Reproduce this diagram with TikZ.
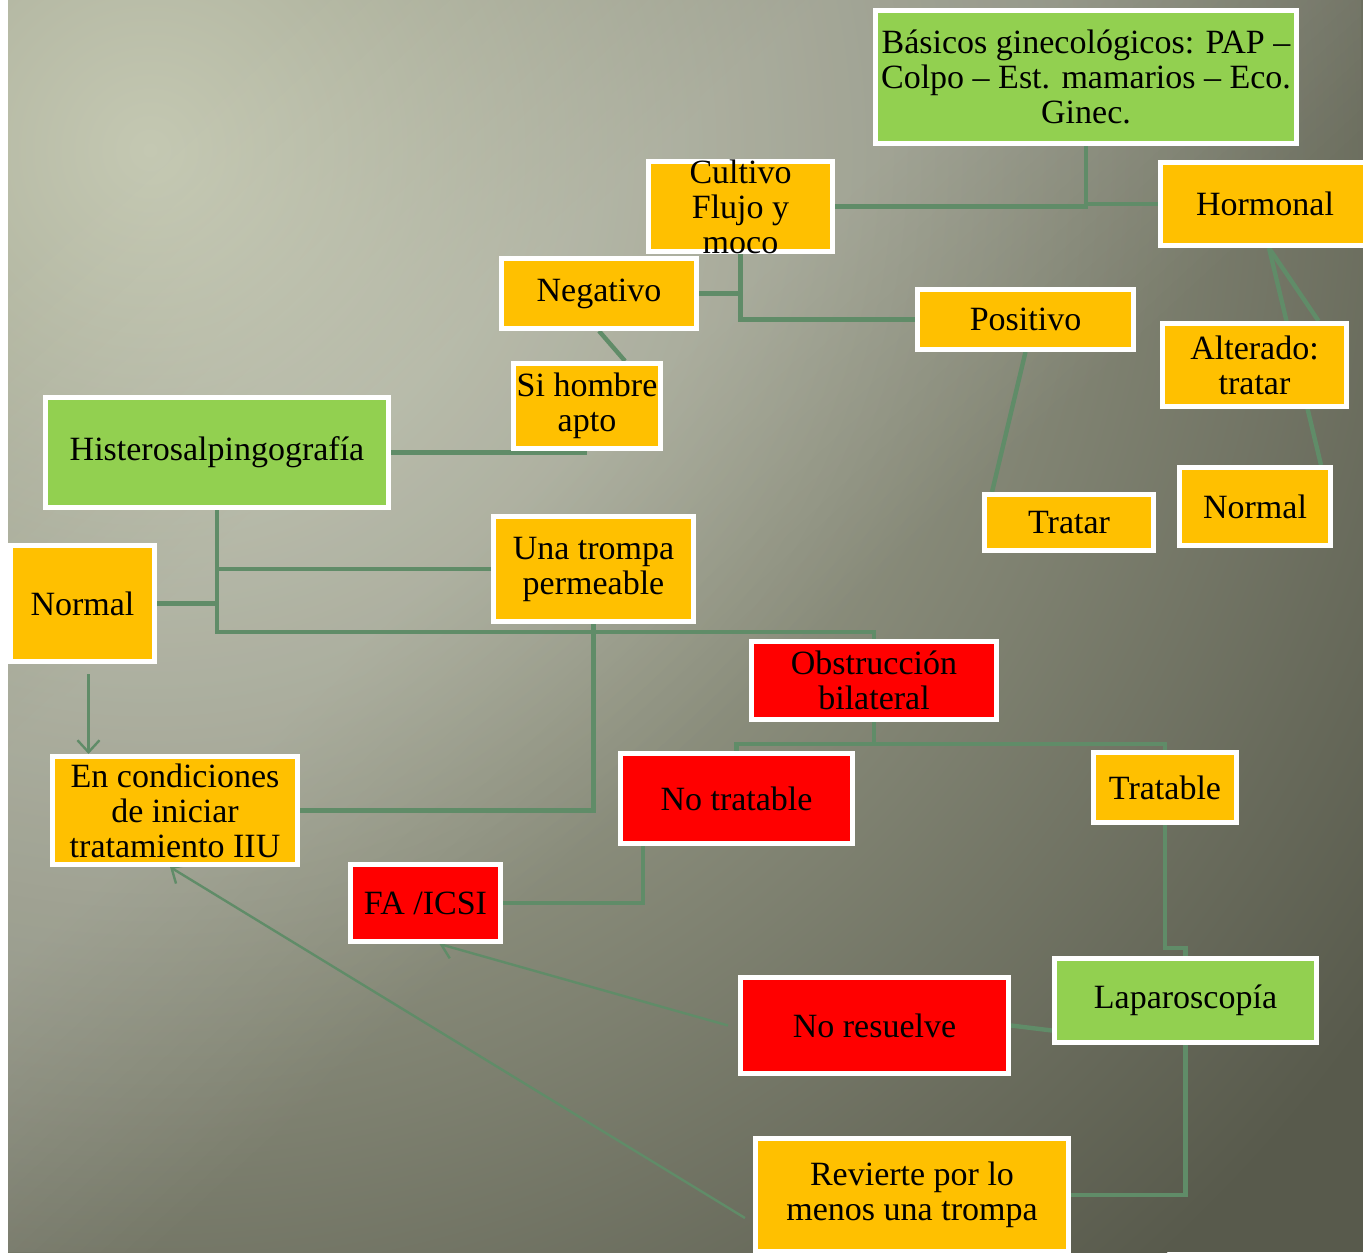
\documentclass[tikz,border=0pt]{standalone}
\usepackage{fontspec}
\setmainfont{Liberation Serif}
\usetikzlibrary{%
  arrows.meta,
  fadings
}

\definecolor{cajaam}{HTML}{FFC000}
\definecolor{cajave}{HTML}{92D050}
\definecolor{cajaro}{HTML}{FF0000}
\definecolor{linea}{RGB}{96,140,104}
\definecolor{fondoc}{RGB}{196,200,178}
\definecolor{fondoo}{RGB}{88,90,76}

\pgfdeclarehorizontalshading{rayassh}{100bp}{color(0bp)=(black); color(22bp)=(black);
  color(36bp)=(white); color(42bp)=(white); color(54bp)=(black); color(100bp)=(black)}
\pgfdeclarefading{rayas}{\pgfuseshading{rayassh}}

\pgfdeclarelayer{fondo}
\pgfdeclarelayer{lineas}
\pgfsetlayers{fondo,lineas,main}

\begin{document}
\begin{tikzpicture}[x=0.5pt, y=-0.5pt,
    texto/.style={align=center, inner sep=1pt, font=\fontsize{17}{17.5}\selectfont},
    caja/.style={texto, draw=white, line width=2.5pt},
    am/.style={caja, fill=cajaam},
    ve/.style={caja, fill=cajave},
    ro/.style={caja, fill=cajaro},
    con/.style={linea, line width=2.2pt},
    fle/.style={linea, line width=1.2pt, -{Straight Barb[length=6pt,width=11pt]}}]
    \useasboundingbox (0,0) rectangle (1363,1252);

    % fondo
    \begin{pgfonlayer}{fondo}
      \begin{scope}
        \clip (8,0) rectangle (1363,1252);
        \fill[fondoo] (8,0) rectangle (1363,1252);
        \shade[inner color=fondoc, outer color=fondoo] (150,150) circle (1500);
        \fill[white, fill opacity=.16, path fading=rayas, fading angle=-45] (8,0) rectangle (1363,1252);
      \end{scope}
    \end{pgfonlayer}

    % cajas
    \node[ve, minimum width=210.5pt, minimum height=66.5pt] (basicos) at (1086,77)
      {Básicos ginecológicos: PAP –\\Colpo – Est. mamarios – Eco.\\Ginec.};
    \node[am, minimum width=92pt, minimum height=45pt] (cultivo) at (740.5,206.5) {};
    \node[texto] at (cultivo) {Cultivo\\Flujo y\\moco};
    \node[am, minimum width=104.5pt, minimum height=41.5pt] (hormonal) at (1265,204) {Hormonal};
    \node[am, minimum width=97.5pt, minimum height=35pt] (negativo) at (599,293.5) {Negativo};
    \node[am, minimum width=108pt, minimum height=30pt] (positivo) at (1025.5,319.5) {Positivo};
    \node[am, minimum width=92pt, minimum height=41.5pt] (alterado) at (1254.5,365) {Alterado:\\tratar};
    \node[am, minimum width=73.5pt, minimum height=42.5pt] (sihombre) at (587,406) {Si hombre\\apto};
    \node[ve, minimum width=171.5pt, minimum height=55pt] (histero) at (217,452.5) {Histerosalpingografía};
    \node[am, minimum width=84.5pt, minimum height=28pt] (tratar) at (1069,522.5) {Tratar};
    \node[am, minimum width=75.5pt, minimum height=39pt] (normalb) at (1255,506.5) {Normal};
    \node[am, minimum width=100pt, minimum height=52.5pt] (unatrompa) at (593.5,569) {Una trompa\\permeable};
    \node[am, minimum width=72pt, minimum height=58pt] (normala) at (82.5,603.5) {Normal};
    \node[ro, minimum width=122.5pt, minimum height=39pt] (obstruccion) at (874,680.5) {Obstrucción\\bilateral};
    \node[am, minimum width=122.5pt, minimum height=54pt] (condiciones) at (175,810.5)
      {En condiciones\\de iniciar\\tratamiento IIU};
    \node[ro, minimum width=116pt, minimum height=45pt] (notratable) at (736.5,798.5) {No tratable};
    \node[am, minimum width=71.5pt, minimum height=35pt] (tratable) at (1165,787.5) {Tratable};
    \node[ro, minimum width=75pt, minimum height=38.5pt] (faicsi) at (425.5,903) {FA /ICSI};
    \node[ro, minimum width=134pt, minimum height=48pt] (noresuelve) at (874.5,1025.5) {No resuelve};
    \node[ve, minimum width=131pt, minimum height=42pt] (laparo) at (1185.5,1000.5) {Laparoscopía};
    \node[am, minimum width=156.5pt, minimum height=56.5pt] (revierte) at (912,1195)
      {Revierte por lo\\menos una trompa};

    % conexiones
    \begin{pgfonlayer}{lineas}
      \draw[con] (cultivo.east) -| (basicos.south);
      \draw[con] (basicos.south |- hormonal.west) -- (hormonal.west);
      \draw[con] (cultivo.south) |- (positivo.west);
      \draw[con] (negativo.east) -- (negativo.east -| cultivo.south);
      \draw[con] (negativo.south) -- ([xshift=19pt]sihombre.north);
      \draw[con] (histero.east) -- (histero.east -| sihombre.south);
      \draw[con] ([xshift=2pt]hormonal.south) -- ([xshift=32pt]alterado.north);
      \draw[con] ([xshift=2pt]hormonal.south) -- ([xshift=33pt]normalb.north);
      \draw[con] (positivo.south) -- ([xshift=-38.5pt]tratar.north);

      \draw[con] (histero.south) -- ++(0,122) -| (obstruccion.north);
      \draw[con] (unatrompa.west) -- (unatrompa.west -| histero.south);
      \draw[con] (normala.east) -- (normala.east -| histero.south);
      \draw[con] (unatrompa.south) |- (condiciones.east);
      \draw[fle] ([xshift=3pt,yshift=-5pt]normala.south) -- ([xshift=3pt]normala.south |- condiciones.north);

      \draw[con] (obstruccion.south) -- ++(0,22) coordinate (ob);
      \draw[con] (notratable.north) |- (ob) -| (tratable.north);
      \draw[con] ([xshift=-46.75pt]notratable.south) |- (faicsi.east);
      \draw[con] (tratable.south) -- ++(0,123) -| (laparo.north);
      \draw[con] ([yshift=-15pt]laparo.west) -- (noresuelve.east);
      \draw[con] (laparo.south) |- (revierte.east);
      \draw[fle] ([xshift=-5pt]noresuelve.west) -- ([xshift=7pt]faicsi.south);
      \draw[fle] ([xshift=-4pt,yshift=-11.5pt]revierte.west) -- ([xshift=-2.5pt]condiciones.south);
    \end{pgfonlayer}
\end{tikzpicture}
\end{document}
